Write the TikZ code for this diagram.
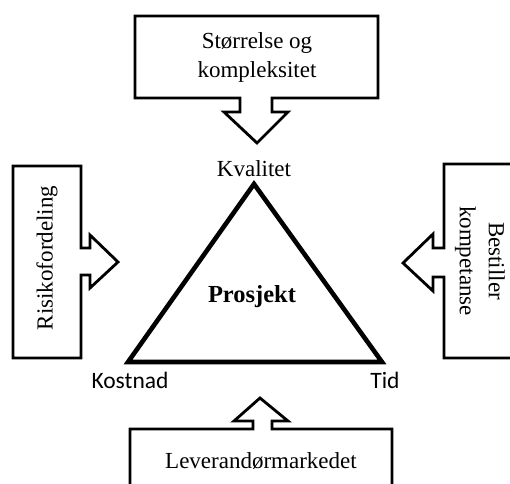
\documentclass[tikz,border=0pt]{standalone}
\usepackage{fontspec}
\setmainfont{Liberation Serif}
\newfontfamily\calfont{Carlito}
\begin{document}
\begin{tikzpicture}[x=1pt,y=-1pt,
  callout/.style={draw=black,line width=2.8pt,line join=miter,fill=white},
  tri/.style={draw=black,line width=4.6pt,line join=miter},
  lbl/.style={font=\fontsize{23}{29}\selectfont,align=center,inner sep=0pt},
  sanslbl/.style={font=\calfont\fontsize{23.5}{27}\selectfont,inner sep=0pt}]
\useasboundingbox (0,0) rectangle (510,483);
% top callout
\draw[callout] (135,16) -- (378,16) -- (378,98) -- (272,98) -- (272,112) -- (288,112)
  -- (257,143) -- (224,112) -- (240,112) -- (240,98) -- (135,98) -- cycle;
% left callout
\draw[callout] (13,166) -- (81,166) -- (81,248) -- (90,248) -- (90,235) -- (118,262)
  -- (90,288) -- (90,275) -- (81,275) -- (81,358) -- (13,358) -- cycle;
% right callout
\draw[callout] (520,164) -- (444,164) -- (444,248) -- (433,248) -- (433,234) -- (403,263)
  -- (433,291) -- (433,277) -- (444,277) -- (444,358) -- (520,358);
% bottom callout
\draw[callout] (130,495) -- (130,429) -- (253,429) -- (253,421) -- (234,421) -- (260,398)
  -- (288,421) -- (272,421) -- (272,429) -- (392,429) -- (392,495);
% triangle
\coordinate (apex) at (254,184);
\coordinate (bl) at (128,362);
\coordinate (br) at (382,362);
\draw[tri] (apex) -- (bl) -- (br) -- cycle;
% texts
\node[lbl] (top) at (257,57) {Størrelse og\\kompleksitet};
\node[lbl,anchor=base] (kval) at (254,176) {Kvalitet};
\node[lbl,rotate=90] (risk) at (47,258) {Risikofordeling};
\node[lbl,rotate=-90] (best) at (480,261) {Bestiller\\kompetanse};
\node[lbl,font=\bfseries\fontsize{24.5}{29}\selectfont,anchor=base] (proj) at (252,302) {Prosjekt};
\node[sanslbl,anchor=base] (kost) at (130,388) {Kostnad};
\node[sanslbl,anchor=base] (tid) at (385,388) {Tid};
\node[lbl,anchor=base] (lev) at (261,468) {Leverandørmarkedet};
\end{tikzpicture}
\end{document}
